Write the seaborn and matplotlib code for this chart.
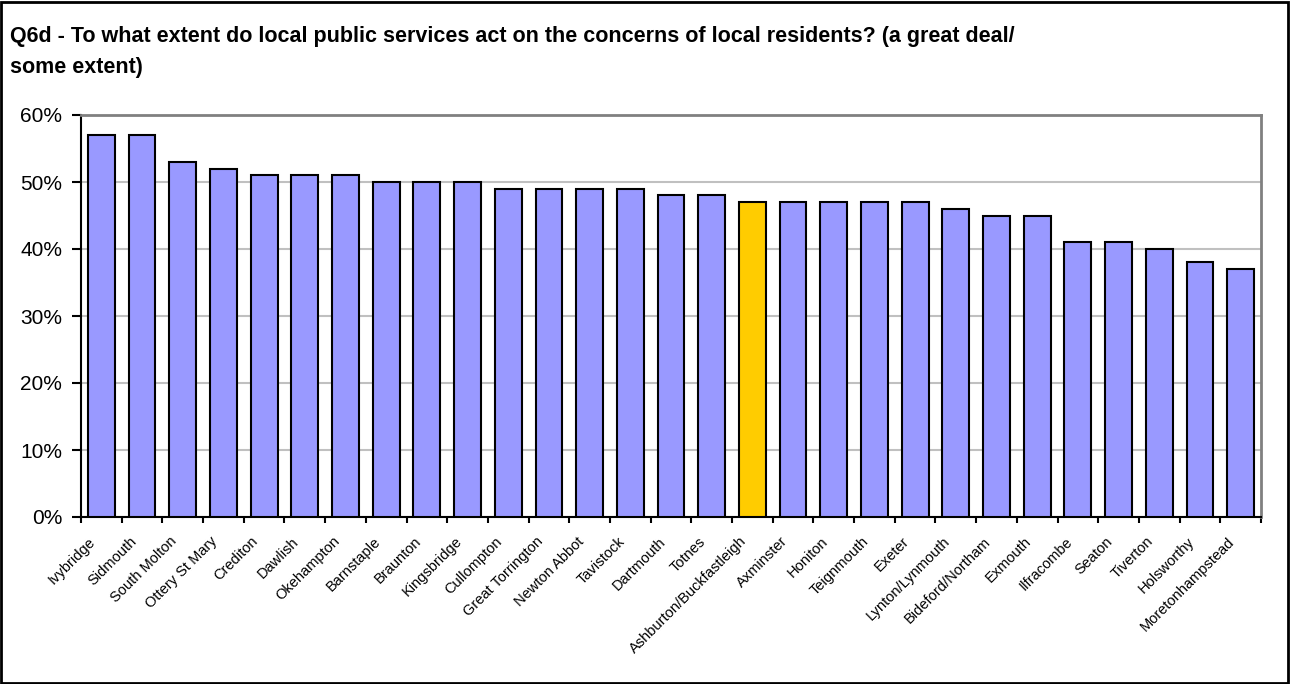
import matplotlib
matplotlib.use('Agg')
import matplotlib.pyplot as plt
import matplotlib.patches as mpatches
import matplotlib.ticker as mticker
import matplotlib.transforms as mtransforms
import numpy as np
import pandas as pd
import seaborn as sns

# 데이터
towns = ['Ivybridge', 'Sidmouth', 'South Molton', 'Ottery St Mary', 'Crediton', 'Dawlish',
         'Okehampton', 'Barnstaple', 'Braunton', 'Kingsbridge', 'Cullompton', 'Great Torrington',
         'Newton Abbot', 'Tavistock', 'Dartmouth', 'Totnes', 'Ashburton/Buckfastleigh',
         'Axminster', 'Honiton', 'Teignmouth', 'Exeter', 'Lynton/Lynmouth', 'Bideford/Northam',
         'Exmouth', 'Ilfracombe', 'Seaton', 'Tiverton', 'Holsworthy', 'Moretonhampstead']
pct = [57, 57, 53, 52, 51, 51, 51, 50, 50, 50, 49, 49, 49, 49, 48, 48, 47,
       47, 47, 47, 47, 46, 45, 45, 41, 41, 40, 38, 37]
highlight = 'Ashburton/Buckfastleigh'

title = ('Q6d - To what extent do local public services act on the concerns of local residents? (a great deal/\n'
         'some extent)')

sns.set_theme(style='white')
plt.rcParams['font.family'] = ['Liberation Sans', 'DejaVu Sans']

df = pd.DataFrame({'town': towns, 'pct': np.array(pct) / 100})
colors = ['#FFCC00' if t == highlight else '#9999FF' for t in towns]

W, H = 1291, 684
fig = plt.figure(figsize=(W / 100, H / 100), dpi=100)
ax = fig.add_axes([81 / W, 1 - 517 / H, (1261 - 81) / W, (517 - 115) / H])

sns.barplot(data=df, x='town', y='pct', hue='town', palette=colors, legend=False,
            saturation=1, width=0.66, edgecolor='black', linewidth=1.5, ax=ax, zorder=3)

ax.set_ylim(0, 0.6)
ax.set_xlim(-0.5, len(towns) - 0.5)
ax.yaxis.set_major_locator(mticker.MultipleLocator(0.1))
ax.yaxis.set_major_formatter(mticker.PercentFormatter(1.0, decimals=0))
ax.grid(axis='y', color='#C0C0C0', linewidth=1.5, zorder=0)
ax.set_axisbelow(True)

ax.set_xlabel('')
ax.set_ylabel('')
ax.tick_params(axis='y', left=True, length=6.5, width=1.5, color='black', labelsize=15, pad=7,
               labelcolor='black')
ax.set_xticks(range(len(towns)))
ax.set_xticklabels(towns, rotation=45, ha='right', va='center', rotation_mode='anchor',
                   fontsize=10.5)
ax.tick_params(axis='x', which='major', bottom=False, length=0, pad=16, labelcolor='black')
# 라벨을 조금 왼쪽으로
shift = mtransforms.ScaledTranslation(-8 / 100, 0, fig.dpi_scale_trans)
for lbl in ax.get_xticklabels():
    lbl.set_transform(lbl.get_transform() + shift)
ax.set_xticks(np.arange(-0.5, len(towns), 1), minor=True)
ax.tick_params(axis='x', which='minor', bottom=True, length=4, width=1.5, color='black')

for side in ['left', 'bottom']:
    ax.spines[side].set_color('black')
    ax.spines[side].set_linewidth(1.5)
for side in ['top', 'right']:
    ax.spines[side].set_color('#808080')
    ax.spines[side].set_linewidth(2)

fig.text(10 / W, 1 - 26 / H, title, ha='left', va='top', fontsize=15.5,
         fontweight='bold', linespacing=1.6, color='black')

# 바깥 테두리
fig.patches.append(mpatches.Rectangle((0.001, 0.002), 0.997, 0.995, transform=fig.transFigure,
                                      fill=False, edgecolor='black', linewidth=2))

fig.savefig('out.png', dpi=100)
